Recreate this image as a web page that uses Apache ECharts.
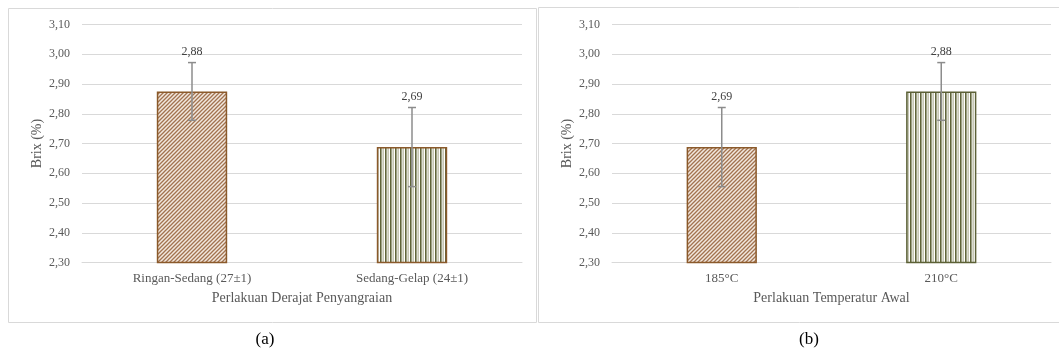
<!DOCTYPE html>
<html><head><meta charset="utf-8">
<script src="https://cdn.jsdelivr.net/npm/echarts@6/dist/echarts.min.js"></script>
<style>html,body{margin:0;padding:0;background:#fff}#c{width:1059px;height:354px}</style>
</head><body><div id="c"></div>
<script>
// ---- data ----
const catsA = ['Ringan-Sedang (27±1)', 'Sedang-Gelap (24±1)'];
const valsA = [2.875, 2.688];
const errA = [0.097, 0.133];
const catsB = ['185°C', '210°C'];
const valsB = [2.688, 2.875];
const errB = [0.133, 0.097];
const yTicks = ['2,30','2,40','2,50','2,60','2,70','2,80','2,90','3,00','3,10'];
const nameXA = 'Perlakuan Derajat Penyangraian';
const nameXB = 'Perlakuan Temperatur Awal';
const nameY = 'Brix (%)';

// ---- patterns ----
function diagPattern() {
  const c = document.createElement('canvas'); c.width = 4; c.height = 4;
  const g = c.getContext('2d');
  g.fillStyle = '#f2e8de'; g.fillRect(0,0,4,4);
  g.strokeStyle = '#a27350'; g.lineWidth = 1.3;
  g.beginPath();
  g.moveTo(-1,5); g.lineTo(5,-1);
  g.moveTo(-1,1); g.lineTo(1,-1);
  g.moveTo(3,5); g.lineTo(5,3);
  g.stroke();
  return c;
}
function vertPattern() {
  const c = document.createElement('canvas'); c.width = 5; c.height = 4;
  const g = c.getContext('2d');
  g.fillStyle = '#ffffff'; g.fillRect(0,0,5,4);
  g.fillStyle = '#5f6438'; g.fillRect(0,0,1.6,4);
  g.fillStyle = '#a3a585'; g.fillRect(2.6,0,1,4);
  return c;
}
const pDiag = {image: diagPattern(), repeat: 'repeat'};
const pVert = {image: vertPattern(), repeat: 'repeat'};
const brown = '#8b5a2b', olive = '#5c6136';

const font = 'Liberation Serif, Times New Roman, serif';
const fmt = v => v.toFixed(2).replace('.', ',');

function yAxis(gi) {
  return {
    gridIndex: gi, type: 'value', min: 2.3, max: 3.1, interval: 0.1,
    axisLine: {show: false}, axisTick: {show: false},
    splitLine: {lineStyle: {color: '#d9d9d9', width: 1}},
    axisLabel: {margin: 12, color: '#595959', fontFamily: font, fontSize: 12,
      formatter: v => yTicks[Math.round((v - 2.3) * 10)]},
    name: nameY, nameLocation: 'middle', nameGap: 38, nameRotate: 90,
    nameTextStyle: {color: '#595959', fontFamily: font, fontSize: 14}
  };
}
function xAxis(gi, cats, nm) {
  return {
    gridIndex: gi, type: 'category', data: cats,
    axisLine: {lineStyle: {color: '#d9d9d9'}}, axisTick: {show: false},
    axisLabel: {margin: 10, color: '#595959', fontFamily: font, fontSize: 13},
    name: nm, nameLocation: 'middle', nameGap: 29,
    nameTextStyle: {color: '#595959', fontFamily: font, fontSize: 14}
  };
}
function barSeries(gi, vals, styles) {
  return {
    type: 'bar', xAxisIndex: gi, yAxisIndex: gi, barWidth: '32%',
    data: vals.map((v, i) => ({value: v, itemStyle: styles[i]}))
  };
}
function errSeries(gi, vals, errs) {
  return {
    type: 'custom', xAxisIndex: gi, yAxisIndex: gi, z: 10,
    data: vals.map((v, i) => [i, v, errs[i]]),
    renderItem: function (params, api) {
      const x = api.value(0), v = api.value(1), e = api.value(2);
      const top = api.coord([x, v + e]), bot = api.coord([x, v - e]);
      const cx = top[0], w = 4;
      const st = {stroke: '#8c8c8c', lineWidth: 1.5};
      return {type: 'group', children: [
        {type: 'line', shape: {x1: cx, y1: top[1], x2: cx, y2: bot[1]}, style: st},
        {type: 'line', shape: {x1: cx - w, y1: top[1], x2: cx + w, y2: top[1]}, style: st},
        {type: 'line', shape: {x1: cx - w, y1: bot[1], x2: cx + w, y2: bot[1]}, style: st},
        {type: 'text', x: cx, y: top[1] - 5, style: {text: fmt(v), align: 'center', verticalAlign: 'bottom',
          fill: '#404040', font: '12px ' + font}}
      ]};
    }
  };
}

const chart = echarts.init(document.getElementById('c'), null, {renderer: 'canvas'});
chart.setOption({
  animation: false,
  grid: [
    {left: 82, right: 537, top: 24.5, bottom: 91.5},
    {left: 612, right: 8, top: 24.5, bottom: 91.5}
  ],
  xAxis: [xAxis(0, catsA, nameXA), xAxis(1, catsB, nameXB)],
  yAxis: [yAxis(0), yAxis(1)],
  series: [
    barSeries(0, valsA, [
      {color: pDiag, borderColor: brown, borderWidth: 1.5},
      {color: pVert, borderColor: brown, borderWidth: 1.5}
    ]),
    errSeries(0, valsA, errA),
    barSeries(1, valsB, [
      {color: pDiag, borderColor: brown, borderWidth: 1.5},
      {color: pVert, borderColor: olive, borderWidth: 1.5}
    ]),
    errSeries(1, valsB, errB)
  ],
  graphic: [
    {type: 'rect', shape: {x: 8.5, y: 8.5, width: 528, height: 314}, style: {fill: 'none', stroke: '#d9d9d9', lineWidth: 1}, silent: true},
    {type: 'rect', shape: {x: 538.5, y: 7.5, width: 530, height: 315}, style: {fill: 'none', stroke: '#d9d9d9', lineWidth: 1}, silent: true},
    {type: 'text', x: 265, y: 340, style: {text: '(a)', align: 'center', verticalAlign: 'middle', fill: '#000', font: '17px ' + font}},
    {type: 'text', x: 809, y: 340, style: {text: '(b)', align: 'center', verticalAlign: 'middle', fill: '#000', font: '17px ' + font}}
  ]
});
</script></body></html>
